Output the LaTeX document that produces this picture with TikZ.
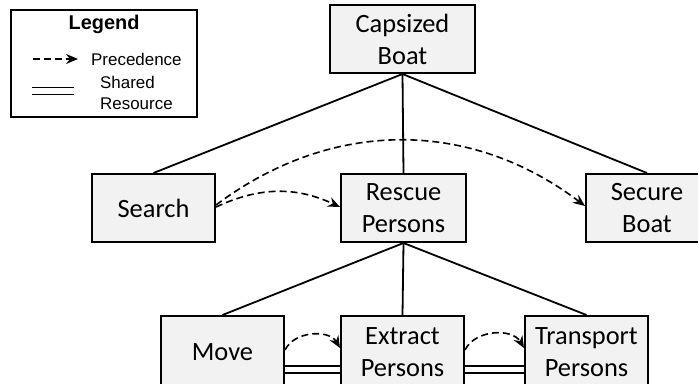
\documentclass[tikz,border=0pt]{standalone}
\usepackage{fontspec}
\setmainfont{Carlito}
\newfontfamily\legendfont{Liberation Sans}
\usetikzlibrary{arrows.meta}
\definecolor{boxgray}{HTML}{F2F2F2}
\begin{document}
\begin{tikzpicture}[x=1bp, y=-1bp,
  task/.style={draw=black, line width=2bp, fill=boxgray, minimum height=68bp,
    align=center, inner sep=0pt, font=\fontsize{26.5}{32}\selectfont},
  tree/.style={line width=1.8bp},
  prec/.style={line width=1.6bp, dash pattern=on 7bp off 4bp,
    -{Stealth[length=12bp, width=10bp, inset=4bp]}},
  shared/.style={double, double distance=5.5bp, line width=1.6bp},
  legendtext/.style={font=\legendfont\fontsize{17}{21}\selectfont, inner sep=0pt, anchor=west, align=left}
]
\useasboundingbox (0,0) rectangle (698,383);

% task hierarchy
\node[task, minimum width=145bp] (capsized) at (402.5,39) {Capsized\\Boat};
\node[task, minimum width=123bp] (search)   at (153.5,208) {Search};
\node[task, minimum width=125bp] (rescue)   at (403.5,208) {Rescue\\Persons};
\node[task, minimum width=122bp] (secure)   at (647,208) {Secure\\Boat};
\node[task, minimum width=123bp, minimum height=72bp] (move)      at (222.5,352) {Move};
\node[task, minimum width=123bp, minimum height=72bp] (extract)   at (402.5,352) {Extract\\Persons};
\node[task, minimum width=123bp, minimum height=72bp] (transport) at (586.5,352) {Transport\\Persons};

\draw[tree] (capsized.south) -- (search.north);
\draw[tree] (capsized.south) -- (rescue.north);
\draw[tree] (capsized.south) -- (secure.north);
\draw[tree] (rescue.south) -- (move.north);
\draw[tree] (rescue.south) -- (extract.north);
\draw[tree] (rescue.south) -- (transport.north);

% precedence relations
\draw[prec] ([yshift=1bp]search.east) to[bend left=25] ([yshift=1bp]rescue.west);
\draw[prec] ([yshift=3bp]search.east) to[bend left=37] ([yshift=2bp]secure.west);
\draw[prec] ([yshift=2bp]move.east) to[bend left=62] ([yshift=4bp]extract.west);
\draw[prec] ([yshift=2bp]extract.east) to[bend left=62] ([yshift=4bp]transport.west);

% shared resources
\draw[shared] ([yshift=-17.5bp]move.east) -- ([yshift=-17.5bp]extract.west);
\draw[shared] ([yshift=-17.5bp]extract.east) -- ([yshift=-17.5bp]transport.west);

% legend
\node[draw=black, line width=2bp, minimum width=186bp, minimum height=107bp, inner sep=0pt] (legend) at (104,63.5) {};
\node[font=\legendfont\bfseries\fontsize{20}{24}\selectfont, inner sep=0pt] (legendtitle) at (104,24) {Legend};
\coordinate (precstart) at (33,59);
\coordinate (precend) at (78,59);
\draw[prec] (precstart) -- (precend);
\node[legendtext] (preclabel) at (91,59) {Precedence};
\coordinate (sharedstart) at (32,91);
\coordinate (sharedend) at (74,91);
\draw[shared] (sharedstart) -- (sharedend);
\node[legendtext] (sharedlabel) at (100,93) {Shared\\Resource};
\end{tikzpicture}
\end{document}
